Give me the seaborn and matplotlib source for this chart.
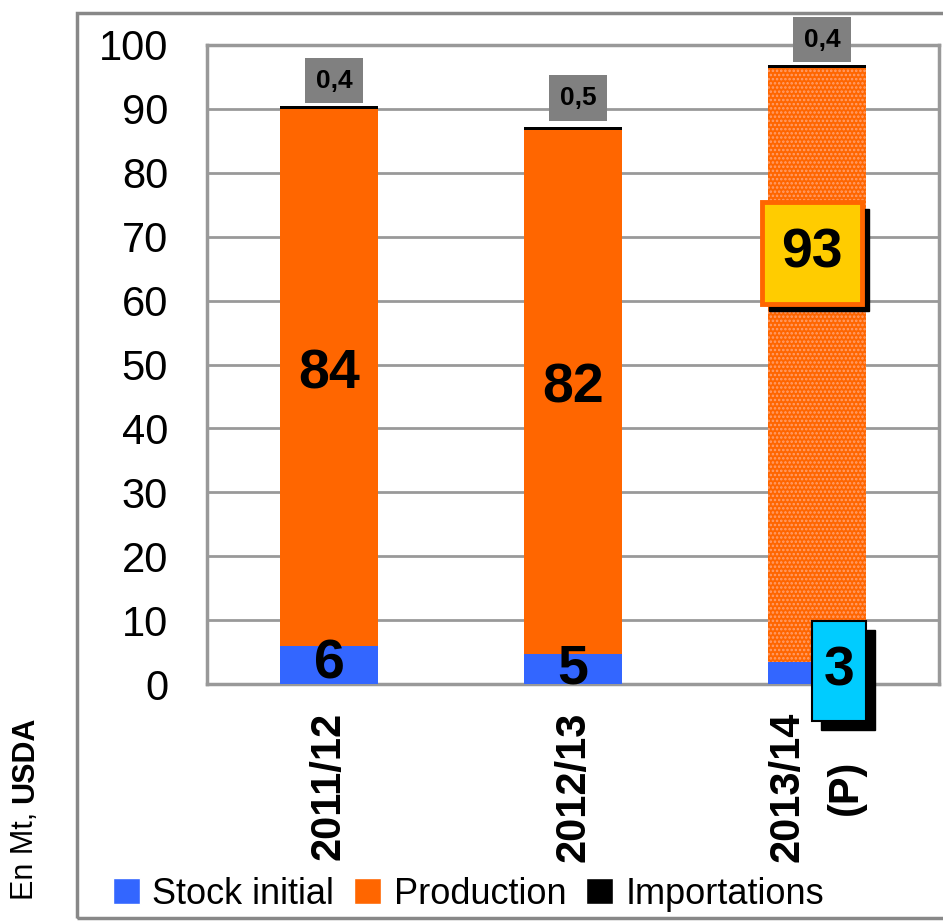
import matplotlib
matplotlib.use("Agg")
import matplotlib.pyplot as plt
import matplotlib.transforms as mtransforms
from matplotlib.patches import Patch, Rectangle
import seaborn as sns
import numpy as np

# data (Mt, USDA)
seasons = ["2011/12", "2012/13", "2013/14\n(P)"]
stock_initial = [6.0, 4.7, 3.4]
production = [84.0, 82.0, 93.0]
importations = [0.4, 0.5, 0.4]
stock_labels = ["6", "5", "3"]
prod_labels = ["84", "82", "93"]
imp_labels = ["0,4", "0,5", "0,4"]

BLUE = "#3366FF"
ORANGE = "#FF6600"
GREY = "#999999"

sns.set_style("white")
plt.rcParams["font.family"] = ["Liberation Sans", "DejaVu Sans"]
plt.rcParams["text.color"] = "black"
plt.rcParams["xtick.color"] = "black"
plt.rcParams["ytick.color"] = "black"
plt.rcParams["hatch.linewidth"] = 1.2

fig = plt.figure(figsize=(9.43, 9.22), dpi=100)
ax = fig.add_axes([0.2195, 0.2581, 0.7763, 0.6931])

stock = np.array(stock_initial)
prod = np.array(production)
imp = np.array(importations)

sns.barplot(x=seasons, y=stock, color=BLUE, saturation=1, width=0.4,
            linewidth=0, ax=ax, zorder=3)
sns.barplot(x=seasons, y=prod, bottom=stock, color=ORANGE, saturation=1,
            width=0.4, linewidth=0, ax=ax, zorder=3)
sns.barplot(x=seasons, y=imp, bottom=stock + prod, color="black",
            saturation=1, width=0.4, linewidth=0, ax=ax, zorder=3)

# projected season: dotted fill
n = len(seasons)
p = ax.patches[n + 2]
p.set_hatch("....")
p.set_edgecolor("#FFA070")
p.set_linewidth(0)

ax.set_ylim(0, 100)
ax.set_yticks(range(0, 101, 10))
ax.set_xlim(-0.5, n - 0.5)
ax.grid(axis="y", color=GREY, linewidth=2, zorder=0)
ax.set_axisbelow(True)
for s in ax.spines.values():
    s.set_color(GREY)
    s.set_linewidth(2.5)
ax.tick_params(axis="y", length=0, pad=28, labelsize=30)
ax.tick_params(axis="x", length=0, pad=20, labelsize=30)
ax.set_xlabel("")
ax.set_ylabel("")
for lab in ax.get_xticklabels():
    lab.set_rotation(90)
    lab.set_fontweight("bold")
    lab.set_va("top")
    lab.set_ha("center")
    lab.set_linespacing(1.6)

# value labels
for i in range(2):
    ax.text(i, stock[i] / 2, stock_labels[i], ha="center", va="center",
            fontsize=40, fontweight="bold", zorder=5)
    ax.text(i, stock[i] + prod[i] / 2 + 0.5, prod_labels[i], ha="center",
            va="center", fontsize=40, fontweight="bold", zorder=5)

imp_offsets = [4.0, 4.5, 4.0]
for i in range(n):
    ax.text(i + 0.02, stock[i] + prod[i] + imp[i] + imp_offsets[i], imp_labels[i],
            ha="center", va="center", fontsize=19, fontweight="bold",
            clip_on=False, zorder=6,
            bbox=dict(boxstyle="square,pad=0.4", facecolor="#808080",
                      edgecolor="none"))

# framed labels on the projected bar
def boxed(x, y, w, h, text, face, edge, lw, shadow):
    sh = mtransforms.offset_copy(ax.transData, fig=fig, x=shadow, y=-shadow,
                                 units="dots")
    ax.add_patch(Rectangle((x - w / 2, y - h / 2), w, h, facecolor="black",
                           edgecolor="black", transform=sh, zorder=6,
                           clip_on=False))
    ax.add_patch(Rectangle((x - w / 2, y - h / 2), w, h, facecolor=face,
                           edgecolor=edge, linewidth=lw, zorder=7,
                           clip_on=False))
    ax.text(x, y, text, ha="center", va="center", fontsize=40,
            fontweight="bold", zorder=8, clip_on=False)

boxed(1.98, 67.4, 0.41, 16.0, prod_labels[2], "#FFCC00", ORANGE, 3.5, 7)
boxed(2.09, 2.0, 0.225, 15.6, stock_labels[2], "#00CCFF", "black", 1.5, 9)

# outer frame
fig.patches.append(Rectangle((0.0817, 0.0043), 1.0, 0.9816, fill=False,
                             edgecolor="#888888", linewidth=2.5,
                             transform=fig.transFigure, figure=fig))

# source label
t1 = fig.text(0.027, 0.024, "En Mt, ", rotation=90, ha="center", va="bottom",
              fontsize=22)
ax.annotate("USDA", xy=(0.5, 1.0), xycoords=t1, rotation=90, ha="center",
            va="bottom", fontsize=22, fontweight="bold", annotation_clip=False)

handles = [Patch(facecolor=BLUE, label="Stock initial"),
           Patch(facecolor=ORANGE, label="Production"),
           Patch(facecolor="black", label="Importations")]
leg = fig.legend(handles=handles, loc="center", bbox_to_anchor=(0.497, 0.03),
                 ncol=3, fontsize=26, frameon=True, facecolor="white",
                 edgecolor="none", framealpha=1, handlelength=0.75,
                 handleheight=0.75, handletextpad=0.35, columnspacing=0.55,
                 borderpad=0.1, fancybox=False)

fig.savefig("out.png", dpi=100)
